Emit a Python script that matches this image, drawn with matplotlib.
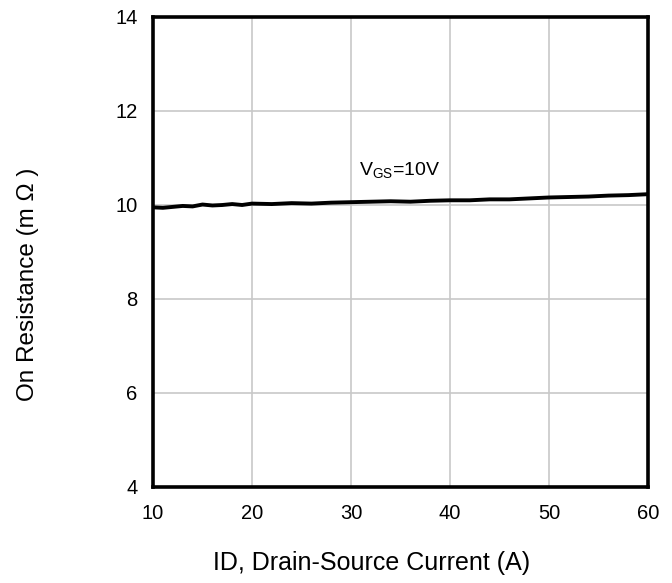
import matplotlib
matplotlib.use("Agg")
import matplotlib.pyplot as plt

plt.rcParams['font.family'] = ['Liberation Sans', 'DejaVu Sans']

current = [10, 11, 12, 13, 14, 15, 16, 17, 18, 19, 20, 22, 24, 26, 28, 30, 32, 34, 36, 38, 40, 42, 44, 46, 48, 50, 52, 54, 56, 58, 60]
resistance = [9.95, 9.94, 9.96, 9.98, 9.97, 10.01, 9.99, 10.00, 10.02, 10.00, 10.03, 10.02, 10.04, 10.03, 10.05, 10.06, 10.07, 10.08, 10.07, 10.09, 10.10, 10.10, 10.12, 10.12, 10.14, 10.16, 10.17, 10.18, 10.20, 10.21, 10.23]
xticks = [10, 20, 30, 40, 50, 60]
yticks = [4, 6, 8, 10, 12, 14]

fig = plt.figure(figsize=(6.72, 5.83), dpi=100)
ax = fig.add_axes([153/672, 1-487/583, (648-153)/672, (487-17)/583])

ax.plot(current, resistance, color='black', lw=2.8)
ax.set_xlim(10, 60)
ax.set_ylim(4, 14)
ax.set_xticks(xticks)
ax.set_yticks(yticks)
ax.grid(True, color='#c8c8c8', lw=1.2)
ax.set_axisbelow(True)
for s in ax.spines.values():
    s.set_linewidth(2.6)
    s.set_color('black')
ax.tick_params(length=0, pad=11, labelsize=14.5)
ax.tick_params(axis='x', pad=12)

ax.text(34.9, 10.72, r'V$_{\mathregular{GS}}$=10V', fontsize=14, ha='center', va='center')

fig.text(371.5/672, 1-563/583, 'ID, Drain-Source Current (A)', fontsize=18, ha='center', va='center')
fig.text(28/672, 1-284/583, 'On Resistance (m Ω )', fontsize=17.5, ha='center', va='center', rotation=90)

fig.savefig('out.png', dpi=100)
